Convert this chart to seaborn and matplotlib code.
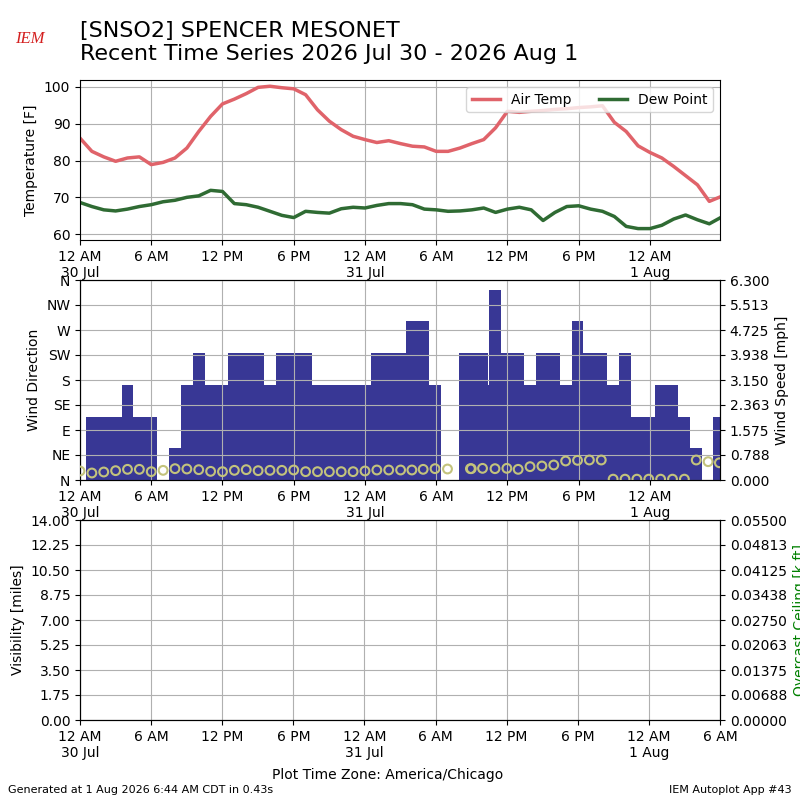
import numpy as np
import pandas as pd
import matplotlib
matplotlib.use("Agg")
import matplotlib.pyplot as plt
import matplotlib.dates as mdates
from matplotlib.ticker import FuncFormatter
import seaborn as sns

# ---------------- data ----------------
START = pd.Timestamp("2026-07-30 00:00")

temp_hours = list(range(54)) + [53.9]
air_temp = [86.1, 82.5, 81.0, 79.8, 80.7, 81.0, 78.9, 79.5, 80.7, 83.4,
            87.9, 92.0, 95.4, 96.7, 98.2, 99.9, 100.2, 99.8, 99.5, 97.9,
            93.8, 90.7, 88.4, 86.6, 85.7, 84.9, 85.4, 84.6, 83.9, 83.7,
            82.5, 82.5, 83.4, 84.6, 85.7, 88.9, 93.4, 93.1, 93.4, 93.6,
            93.9, 94.1, 94.4, 94.6, 94.9, 90.4, 87.9, 84.0, 82.2, 80.7,
            78.4, 75.9, 73.4, 68.9, 70.1]
dew_point = [68.6, 67.5, 66.6, 66.3, 66.8, 67.5, 68.0, 68.8, 69.2, 70.0,
             70.4, 71.9, 71.6, 68.3, 68.0, 67.3, 66.2, 65.1, 64.5, 66.2,
             65.9, 65.7, 66.9, 67.3, 67.1, 67.8, 68.3, 68.3, 68.0, 66.8,
             66.6, 66.2, 66.3, 66.6, 67.1, 65.9, 66.8, 67.3, 66.6, 63.7,
             65.9, 67.5, 67.7, 66.8, 66.2, 64.8, 62.1, 61.5, 61.5, 62.4,
             64.1, 65.2, 63.9, 62.8, 64.4]

wind_hours = list(range(28)) + [27.95, 28.9, 29.9, 30.95, 32.44, 32.88, 32.95,
                                33.9, 34.42, 34.95, 35.95, 36.9, 37.9, 38.9,
                                39.9, 40.9, 41.9, 42.9, 43.9, 44.9, 45.9, 46.9,
                                47.9, 48.9, 49.9, 50.9, 51.9, 52.9, 53.85]
wind_speed = [0, 2, 2, 2, 3, 2, 2, 0, 1, 3, 4, 3, 3, 4, 4, 4, 3, 4, 4, 4,
              3, 3, 3, 3, 3, 4, 4, 4,
              5, 5, 3, 0, 4, 4, 4, 4, 3, 6, 4, 4, 3, 4, 4, 3, 5, 4, 4, 3,
              4, 2, 2, 3, 3, 2, 1, 0, 2]
wind_dir_marks = [16.2, 12.6, 14.4, 16.8, 19.2, 19.2, 15.0, 17.4, 20.4, 19.8,
                  18.6, 15.6, 15.0, 17.4, 18.6, 16.8, 17.4, 17.4, 18.0, 15.0,
                  15.0, 15.0, 15.0, 15.0, 16.2, 18.0, 18.0, 18.0,
                  18.0, 19.2, 20.4, 19.8, np.nan, 20.4, 20.4, 21.0, np.nan,
                  20.4, 21.0, 19.2, 24.0, 25.2, 27.0, 34.2, 35.4, 36.0, 36.0,
                  1.5, 1.5, 1.5, 1.5, 1.5, 1.5, 1.5, 36.0, 33.0, 31.0]

dir_ticks = [0, 45, 90, 135, 180, 225, 270, 315, 360]
dir_labels = ["N", "NE", "E", "SE", "S", "SW", "W", "NW", "N"]

title_text = "[SNSO2] SPENCER MESONET\nRecent Time Series 2026 Jul 30 - 2026 Aug 1"
footer_left = "Generated at 1 Aug 2026 6:44 AM CDT in 0.43s"
footer_right = "IEM Autoplot App #43"
tz_text = "Plot Time Zone: America/Chicago"

AIR_C = "#e0636a"
DEW_C = "#2f6b33"
BAR_C = "#383795"
CIRC_C = "#c3c37c"


def to_time(hours):
    return START + pd.to_timedelta(np.asarray(hours, dtype=float), unit="h")


def xfmt(x, pos=None):
    d = mdates.num2date(x)
    h = d.hour
    s = f"{(h % 12) or 12} {'AM' if h < 12 else 'PM'}"
    if h == 0:
        s += "\n" + f"{d.day} {d.strftime('%b')}"
    return s


def style_x(ax, h0, h1):
    ax.set_xlim(to_time([h0])[0].to_pydatetime(), to_time([h1])[0].to_pydatetime())
    ax.xaxis.set_major_locator(mdates.HourLocator(byhour=[0, 6, 12, 18]))
    ax.xaxis.set_major_formatter(FuncFormatter(xfmt))
    ax.set_xlabel("")


plt.rcParams["font.family"] = ["DejaVu Sans"]

fig = plt.figure(figsize=(8, 8), dpi=100)
ax1 = fig.add_axes([0.1, 0.7, 0.8, 0.2])
ax2 = fig.add_axes([0.1, 0.4, 0.8, 0.25])
ax3 = fig.add_axes([0.1, 0.1, 0.8, 0.25])

# ---------------- temperature panel ----------------
df_t = pd.DataFrame({"valid": to_time(temp_hours), "tmpf": air_temp, "dwpf": dew_point})
sns.lineplot(data=df_t, x="valid", y="tmpf", ax=ax1, color=AIR_C, lw=2.5, label="Air Temp")
sns.lineplot(data=df_t, x="valid", y="dwpf", ax=ax1, color=DEW_C, lw=2.5, label="Dew Point")
ax1.set_ylabel("Temperature [F]")
ax1.set_ylim(58.4, 101.9)
ax1.set_yticks([60, 70, 80, 90, 100])
style_x(ax1, 0, 53.9)
ax1.grid(True, color="#b0b0b0")
ax1.legend(loc="upper right", ncol=2)

# ---------------- wind panel ----------------
df_w = pd.DataFrame({"valid": to_time(wind_hours), "sped": wind_speed, "mark": wind_dir_marks})
ax_spd = ax2.twinx()
sns.scatterplot(data=df_w, x="valid", y="mark", ax=ax2, marker="o", s=40,
                facecolor="none", edgecolor=CIRC_C, linewidth=1.5, zorder=5)
ax_spd.bar(df_w["valid"], df_w["sped"], width=1 / 24.0, color=BAR_C,
           align="center", linewidth=0)
ax2.set_zorder(ax_spd.get_zorder() + 1)
ax2.patch.set_visible(False)
ax2.set_ylim(0, 360)
ax2.set_yticks(dir_ticks)
ax2.set_yticklabels(dir_labels)
ax2.set_ylabel("Wind Direction")
spd_ticks = np.linspace(0, 6.3, 9)
ax_spd.set_ylim(0, 6.3)
ax_spd.set_yticks(spd_ticks)
ax_spd.set_yticklabels([f"{v + 1e-9:.3f}" for v in spd_ticks])
ax_spd.set_ylabel("Wind Speed [mph]")
style_x(ax2, 0, 53.9)
ax2.grid(True, color="#b0b0b0")

# ---------------- visibility / ceiling panel ----------------
ax3b = ax3.twinx()
vis_ticks = np.linspace(0, 14, 9)
ax3.set_ylim(0, 14)
ax3.set_yticks(vis_ticks)
ax3.set_yticklabels([f"{v:.2f}" for v in vis_ticks])
ax3.set_ylabel("Visibility [miles]")
cig_ticks = np.linspace(0, 0.055, 9)
ax3b.set_ylim(0, 0.055)
ax3b.set_yticks(cig_ticks)
ax3b.set_yticklabels([f"{v + 1e-12:.5f}" for v in cig_ticks])
ax3b.set_ylabel("Overcast Ceiling [k ft]", color="green")
style_x(ax3, 0, 54)
ax3.grid(True, color="#b0b0b0")

# ---------------- texts ----------------
fig.text(0.1, 0.974, title_text, fontsize=16, va="top", ha="left")
fig.text(0.0375, 0.951, "IEM", color="#d42020", fontsize=12, fontstyle="italic",
         family=["Liberation Serif", "DejaVu Serif"], ha="center", va="center")
fig.text(0.484, 0.031, tz_text, fontsize=10, ha="center", va="center")
fig.text(0.01, 0.012, footer_left, fontsize=8, ha="left", va="center")
fig.text(0.99, 0.012, footer_right, fontsize=8, ha="right", va="center")

fig.savefig("out.png", dpi=100)
